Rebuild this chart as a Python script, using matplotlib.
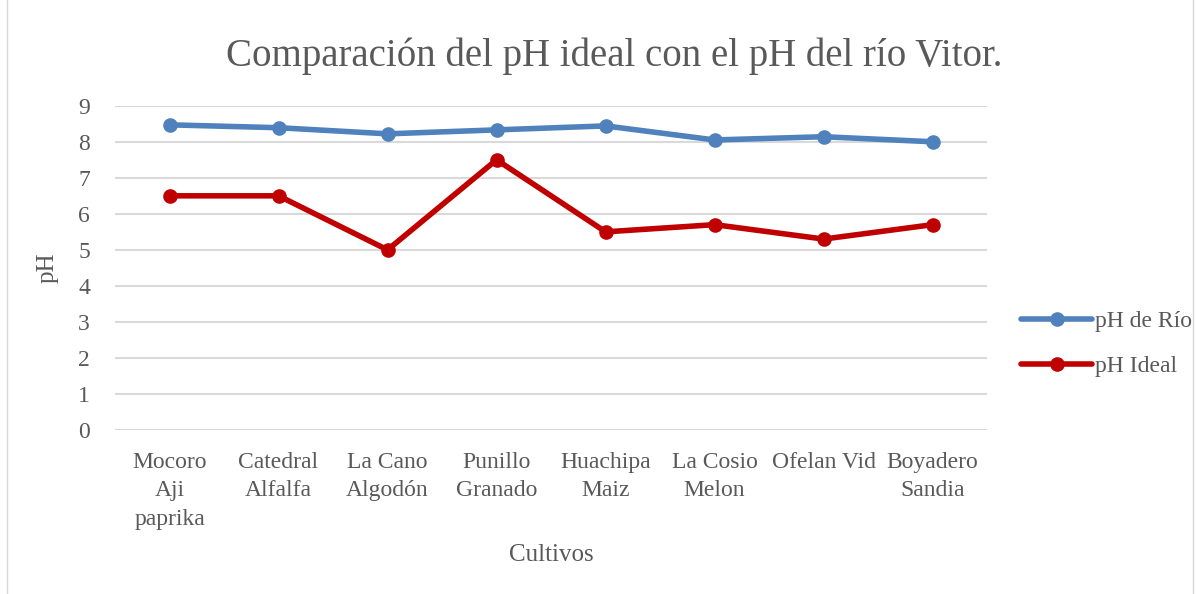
import matplotlib.pyplot as plt
from matplotlib.patches import Rectangle

plt.rcParams["font.family"] = ["Liberation Serif", "DejaVu Serif"]

cultivos = ["Mocoro\nAji\npaprika", "Catedral\nAlfalfa", "La Cano\nAlgodón", "Punillo\nGranado",
            "Huachipa\nMaiz", "La Cosio\nMelon", "Ofelan Vid", "Boyadero\nSandia"]
ph_rio = [8.47, 8.39, 8.22, 8.33, 8.44, 8.05, 8.14, 8.0]
ph_ideal = [6.5, 6.5, 5.0, 7.5, 5.5, 5.7, 5.3, 5.7]

text_color = "#595959"

fig = plt.figure(figsize=(11.98, 5.94), dpi=100)
ax = fig.add_axes([0.096, 0.276, 0.728, 0.546])

x = range(len(cultivos))
ax.plot(x, ph_rio, color="#4f81bd", lw=4, marker="o", ms=9.5, label="pH de Río",
        solid_capstyle="round")
ax.plot(x, ph_ideal, color="#c00000", lw=4, marker="o", ms=9.5, label="pH Ideal",
        solid_capstyle="round")

ax.set_xlim(-0.5, len(cultivos) - 0.5)
ax.set_ylim(0, 9)
ax.set_yticks(range(10))
ax.set_xticks(list(x))
ax.set_xticklabels(cultivos, linespacing=1.45)
ax.yaxis.grid(True, color="#d9d9d9", lw=1.5)
ax.set_axisbelow(True)
for s in ax.spines.values():
    s.set_visible(False)
ax.tick_params(length=0, labelsize=17, colors=text_color, pad=16)
ax.tick_params(axis="y", pad=18)

ax.set_xlabel("Cultivos", fontsize=18, color=text_color, labelpad=10)
ax.set_ylabel("pH", fontsize=18, color=text_color, labelpad=14)
fig.text(0.513, 0.905, "Comparación del pH ideal con el pH del río Vitor.", ha="center", va="center",
         fontsize=28, color=text_color)

ax.legend(loc="center left", bbox_to_anchor=(1.015, 0.265), frameon=False, fontsize=17,
          labelcolor=text_color, handlelength=3.0, handletextpad=0.1, labelspacing=1.0)

fig.patches.append(Rectangle((0.006, -0.01), 0.99, 1.02, transform=fig.transFigure,
                             fill=False, edgecolor="#d9d9d9", lw=1))

fig.savefig("out.png", dpi=100)
